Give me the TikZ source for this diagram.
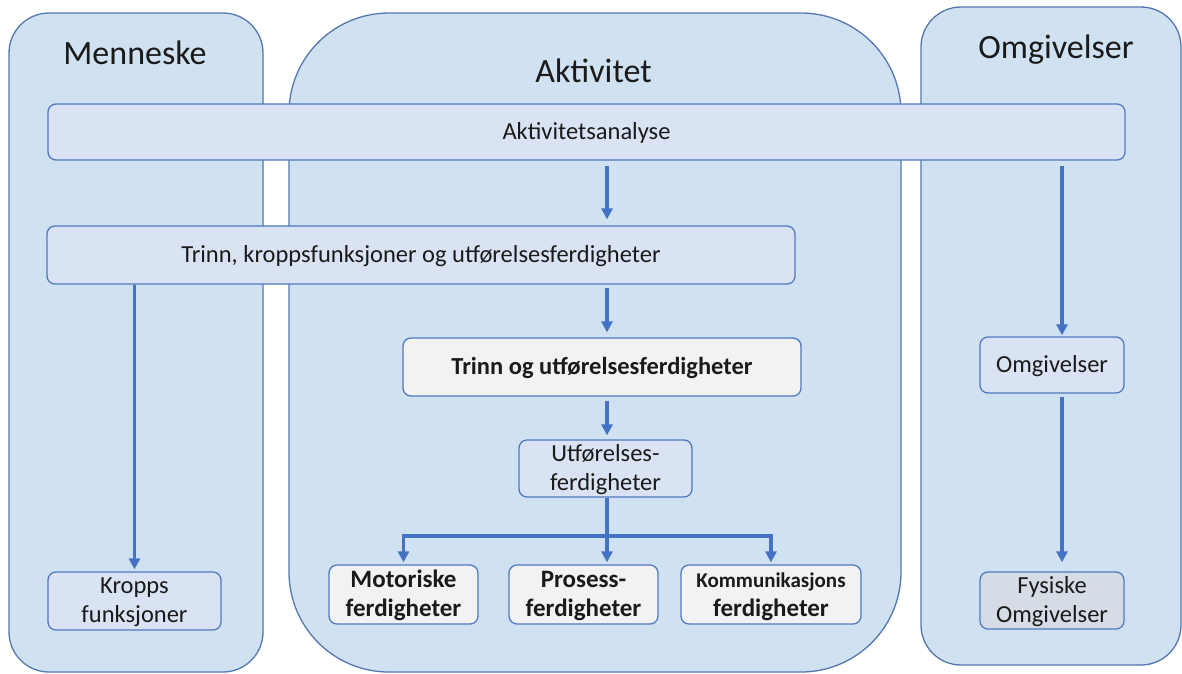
\documentclass[tikz,border=0pt]{standalone}
\usepackage{fontspec}
\setmainfont{Carlito}
\usetikzlibrary{arrows.meta,calc}
\definecolor{contfill}{HTML}{D0E1F2}
\definecolor{contline}{HTML}{5577B0}
\definecolor{boxfill}{HTML}{DAE3F3}
\definecolor{boxline}{HTML}{5079C0}
\definecolor{grayfill}{HTML}{F2F2F2}
\definecolor{fysfill}{HTML}{D6DCE5}
\definecolor{arrowc}{HTML}{4472C4}
\definecolor{txt}{HTML}{1A1A1A}
\newcommand\bstrut{\rule[-7pt]{0pt}{28pt}}
\begin{document}
\begin{tikzpicture}[x=1pt,y=-1pt,
  container/.style={draw=contline, fill=contfill, line width=1.3pt, rectangle, inner sep=0pt},
  title/.style={anchor=base, text=txt, font=\fontsize{34}{40}\selectfont, inner sep=0pt},
  box/.style={draw=boxline, fill=boxfill, line width=1.3pt, rounded corners=8pt, rectangle,
    inner sep=0pt, align=center, text=txt, font=\fontsize{24.5}{29}\selectfont},
  graybox/.style={box, fill=grayfill, font=\fontsize{25}{29}\selectfont\bfseries},
  arr/.style={draw=arrowc, line width=3.3pt, -{Triangle[width=11pt,length=11pt]}},
]
\useasboundingbox (0,0) rectangle (1182,673);

% containers
\node[container, rounded corners=40pt, minimum width=254pt, minimum height=659pt] (men) at (136,342.5) {};
\node[container, rounded corners=100pt, minimum width=612pt, minimum height=659pt] (akt) at (595,342.5) {};
\node[container, rounded corners=40pt, minimum width=260pt, minimum height=658pt] (omgc) at (1051,336) {};

\node[title] (tmen) at (135,64) {Menneske};
\node[title] (takt) at (593.5,82) {Aktivitet};
\node[title] (tomg) at (1056,58) {Omgivelser};

% boxes
\node[box, minimum width=1077pt, minimum height=56pt] (ana) at (586.5,132) {\bstrut Aktivitetsanalyse};
\node[box, minimum width=748pt, minimum height=58pt] (trinn) at (421,255) {\bstrut Trinn, kroppsfunksjoner og utførelsesferdigheter};
\node[graybox, minimum width=398pt, minimum height=58pt, font=\fontsize{24.5}{29}\selectfont\bfseries] (tou) at (602,367) {\bstrut Trinn og utførelsesferdigheter};
\node[box, minimum width=173pt, minimum height=57pt] (utf) at (605.5,468.5) {\bstrut Utførelses-\\ ferdigheter\bstrut};
\node[graybox, minimum width=149pt, minimum height=59pt] (mot) at (403.5,594.5) {\bstrut Motoriske\\ ferdigheter\bstrut};
\node[graybox, minimum width=149pt, minimum height=59pt] (pro) at (583.5,594.5) {\bstrut Prosess-\\ ferdigheter\bstrut};
\node[graybox, minimum width=180pt, minimum height=59pt] (kom) at (771,594.5) {{\fontsize{21}{29}\selectfont\bstrut Kommunikasjons}\\ ferdigheter\bstrut};
\node[box, minimum width=173pt, minimum height=58pt] (kro) at (134.5,601) {\bstrut Kropps\\ funksjoner\bstrut};
\node[box, minimum width=144pt, minimum height=56pt] (omg) at (1052,365) {\bstrut Omgivelser};
\node[box, fill=fysfill, minimum width=144pt, minimum height=57pt] (fys) at (1052,600.5) {\bstrut Fysiske\\ Omgivelser\bstrut};

% connector helpers
\coordinate (cx) at (607,0);
\coordinate (j) at (607,536);
\coordinate (rx) at (1062,0);

% arrows
\draw[arr, shorten <=5pt, shorten >=6pt] (ana.south -| cx) -- (trinn.north -| cx);
\draw[arr, shorten <=3pt, shorten >=5pt] (trinn.south -| cx) -- (tou.north -| cx);
\draw[arr, shorten <=4pt, shorten >=4pt] (tou.south -| cx) -- (utf.north -| cx);
\draw[arr, shorten >=2pt] (utf.south -| cx) -- (pro.north -| cx);
\draw[arr, shorten >=2pt] (j) -| (mot.north);
\draw[arr, shorten >=2pt] (j) -| (kom.north);
\draw[arr, shorten >=2pt] (trinn.south -| kro.north) -- (kro.north);
\draw[arr, shorten <=5pt, shorten >=1pt] (ana.south -| rx) -- (omg.north -| rx);
\draw[arr, shorten <=3pt, shorten >=9pt] (omg.south -| rx) -- (fys.north -| rx);
\end{tikzpicture}
\end{document}
